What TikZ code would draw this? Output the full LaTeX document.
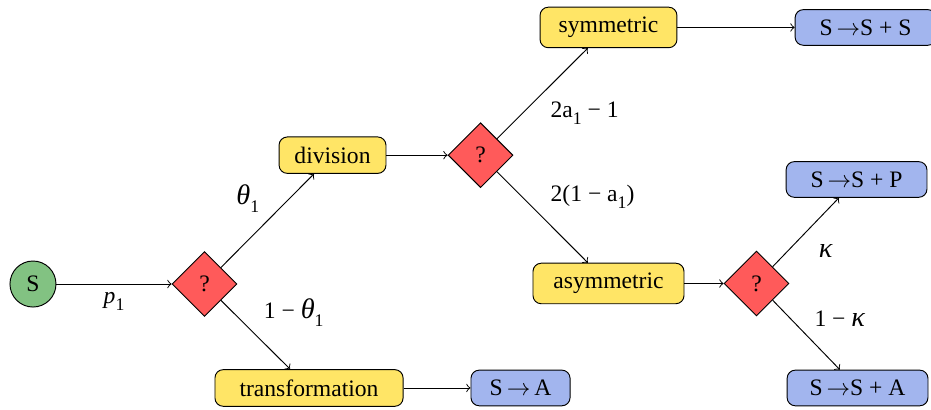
\documentclass[tikz,border=0pt]{standalone}
\usepackage{fontspec}
\setmainfont{Liberation Serif}
\usepackage{xcolor}
\usepackage{tikz}
\usetikzlibrary{shapes.geometric}
\definecolor{cellgreen}{HTML}{82C282}
\definecolor{choicered}{HTML}{FF5A5A}
\definecolor{eventyellow}{HTML}{FFE566}
\definecolor{outcomeblue}{HTML}{A2B5EE}
\newcommand{\lowsub}[1]{\raisebox{-0.7ex}{\fontsize{7.5}{8}\selectfont #1}}

\begin{document}
\begin{tikzpicture}[
    every node/.style={font=\normalsize},
    cell/.style={circle, draw, fill=cellgreen, minimum size=19.5pt, inner sep=0pt},
    choice/.style={diamond, draw, fill=choicered, aspect=1, minimum width=27.5pt, minimum height=27.5pt, inner sep=0pt},
    event/.style={draw, fill=eventyellow, rounded corners=3.5pt, inner xsep=4pt, inner ysep=4.2pt},
    outcome/.style={draw, fill=outcomeblue, rounded corners=3.5pt, inner xsep=4pt, inner ysep=4.2pt, minimum width=59.7pt},
    flow/.style={->},
    prob/.style={inner sep=3.3pt}
  ]
  \useasboundingbox (0,0) rectangle (13.865,6.106);

  \node[cell] (s) at (0.491,1.876) {S};
  \node[choice] (q1) at (3.046,1.876) {?};
  \node[event, minimum width=45.3pt] (div) at (4.952,3.795) {division};
  \node[event, minimum width=79.7pt] (trf) at (4.602,0.328) {transformation};
  \node[outcome, minimum width=42pt] (sa) at (7.752,0.328) {S\,$\rightarrow$\,A};
  \node[choice] (q2) at (7.156,3.795) {?};
  \node[event, minimum width=58pt] (sym) at (9.062,5.697) {symmetric};
  \node[outcome] (sss) at (12.890,5.697) {S\,$\rightarrow$S + S};
  \node[event, minimum width=64pt] (asym) at (9.062,1.884) {asymmetric};
  \node[choice] (q3) at (11.266,1.884) {?};
  \node[outcome] (ssp) at (12.756,3.433) {S\,$\rightarrow$S + P};
  \node[outcome] (ssa) at (12.771,0.328) {S\,$\rightarrow$S + A};

  \foreach \a/\b in {div/q2, trf/sa, sym/sss, asym/q3} {\draw[flow] (\a) -- (\b);}

  \draw[flow] (s) -- node[prob, below] {\textit{p}\lowsub{1}} (q1);
  \draw[flow] (q1) -- node[prob, above left] {{\large\textit{θ}}\lowsub{1}} (div);
  \draw[flow] (q1) -- node[prob, above right] {1 − {\large\textit{θ}}\lowsub{1}} (trf);
  \draw[flow] (q2) -- node[prob, below right] {2a\lowsub{1} − 1} (sym);
  \draw[flow] (q2) -- node[prob, above right] {2(1 − a\lowsub{1})} (asym);
  \draw[flow] (q3) -- node[prob, below right, xshift=2pt, yshift=-1.5pt] {{\large\textit{κ}}} (ssp);
  \draw[flow] (q3) -- node[prob, above right] {1 − {\large\textit{κ}}} (ssa);

\end{tikzpicture}
\end{document}
